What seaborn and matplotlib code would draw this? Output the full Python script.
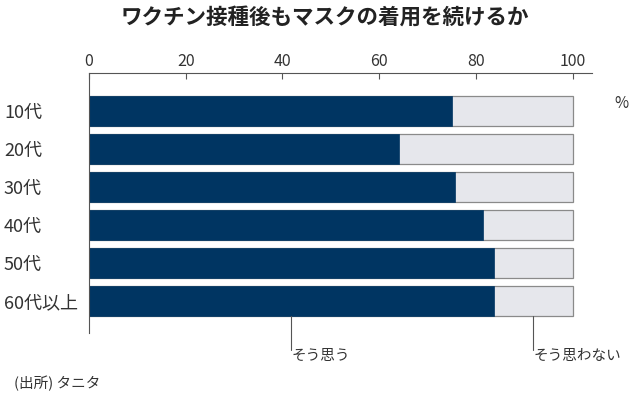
import matplotlib
matplotlib.use("Agg")
import matplotlib.pyplot as plt
import seaborn as sns
import pandas as pd

categories = ["10代", "20代", "30代", "40代", "50代", "60代以上"]
agree = [75, 64, 75.6, 81.5, 83.7, 83.7]
total = [100, 100, 100, 100, 100, 100]
xticks = [0, 20, 40, 60, 80, 100]

sns.set_theme(style="white")
plt.rcParams['font.family'] = ['Noto Sans CJK JP', 'DejaVu Sans']

df = pd.DataFrame({"cat": categories, "agree": agree, "total": total})

fig = plt.figure(figsize=(6.38, 3.99), dpi=100)
ax = fig.add_axes([89/638, 1-333/399, (592-89)/638, (333-73)/399])

sns.barplot(data=df, y="cat", x="total", orient="h", color="#e6e7ec",
            edgecolor="#8a8a8a", linewidth=0.9, width=0.78, ax=ax, saturation=1)
sns.barplot(data=df, y="cat", x="agree", orient="h", color="#003562",
            edgecolor="#003562", linewidth=0.5, width=0.78, ax=ax, saturation=1)

ax.set_xlim(0, 104)
ax.set_ylim(5.84, -1)
ax.set_xlabel("")
ax.set_ylabel("")
ax.xaxis.tick_top()
ax.set_xticks(xticks)
ax.set_xticklabels([str(t) for t in xticks], fontsize=11.5, color="#333333")
ax.tick_params(axis="x", direction="in", length=4, width=0.8, color="#555555", pad=2, top=True, bottom=False)
ax.tick_params(axis="y", length=0, labelsize=13, labelcolor="#333333", pad=0)
for lbl in ax.get_yticklabels():
    lbl.set_horizontalalignment("left")
    lbl.set_transform(ax.get_yaxis_transform())
    lbl.set_position((-85/503, 0))

for s in ["right", "bottom"]:
    ax.spines[s].set_visible(False)
ax.spines["top"].set_color("#555555")
ax.spines["top"].set_linewidth(0.8)
ax.spines["left"].set_color("#555555")
ax.spines["left"].set_linewidth(0.8)

ax.text((614-89)/503, 1-(103-73)/260, "%", transform=ax.transAxes, fontsize=11,
        color="#333333", ha="left", va="center")

# annotation leader lines
last = len(categories) - 1
x1 = agree[last] / 2
x2 = (agree[last] + total[last]) / 2
for xv, label in [(x1, "そう思う"), (x2, "そう思わない")]:
    ax.plot([xv, xv], [last + 0.39, 6.28], color="#555555", lw=0.8, clip_on=False)
    ax.text(xv, 6.45, label, fontsize=10.5, color="#333333", ha="left", va="center", clip_on=False)

fig.text(325/638, 1-17/399, "ワクチン接種後もマスクの着用を続けるか", fontsize=15.5, fontweight="bold",
         ha="center", va="center", color="#222222")
fig.text(14/638, 1-383/399, "(出所) タニタ", fontsize=10.5, ha="left", va="center", color="#333333")

fig.savefig("out.png", dpi=100)
